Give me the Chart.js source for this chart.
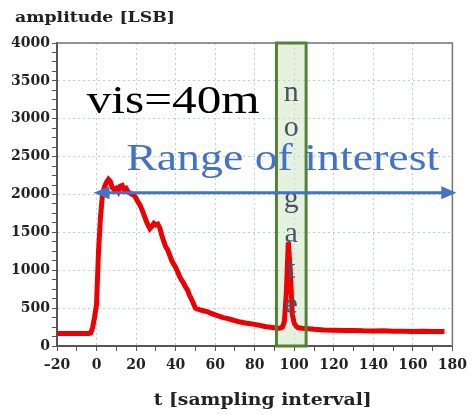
<!DOCTYPE html>
<html>
<head>
<meta charset="utf-8">
<script src="https://cdn.jsdelivr.net/npm/chart.js@4.4.1/dist/chart.umd.min.js"></script>
<style>
  body { margin: 0; background: #fff; }
  #wrap { width: 473px; height: 415px; }
</style>
</head>
<body>
<div id="wrap"><canvas id="chart" width="473" height="415"></canvas></div>
<script>
const sampleT = [-20, -10, -4, -3, -2, -1,
  0, 1, 2, 3, 4, 5, 6, 7, 8, 9, 10, 11, 12, 13, 14, 15, 16, 17, 18, 19, 20,
  21, 22, 23, 24, 25, 26, 27, 28, 29, 30, 31, 32, 33, 34, 35, 36, 37, 38, 39, 40,
  41, 42, 43, 44, 45, 46, 47, 48, 49, 50,
  52, 54, 56, 58, 60, 62, 64, 66, 68, 70, 72, 74, 76, 78, 80, 82, 84, 86, 88, 90,
  92, 93, 94, 95, 96, 97, 98, 99, 100, 101, 102, 104, 106,
  110, 115, 120, 125, 130, 135, 140, 145, 150, 155, 160, 165, 170, 176]
const amplitude = [165, 165, 165, 170, 240, 380,
  550, 1250, 1700, 2000, 2100, 2160, 2200, 2170, 2090, 2060, 2080, 2040, 2110, 2120, 2060, 2080, 2030, 2020, 2000, 1990, 1950,
  1900, 1860, 1800, 1730, 1660, 1600, 1550, 1580, 1620, 1600, 1610, 1560, 1460, 1380, 1310, 1270, 1200, 1130, 1080, 1040,
  980, 920, 870, 830, 780, 740, 670, 620, 560, 500,
  480, 465, 455, 430, 410, 395, 375, 365, 350, 335, 320, 310, 300, 295, 285, 275, 265, 255, 248, 240,
  236, 238, 250, 320, 700, 1370, 1000, 420, 300, 260, 240, 235, 232,
  220, 212, 208, 205, 205, 200, 198, 200, 196, 195, 193, 194, 192, 190]

const xLabelTicks = [-20, 0, 20, 40, 60, 80, 100, 120, 140, 160, 180]
const yLabelTicks = [0, 500, 1000, 1500, 2000, 2500, 3000, 3500, 4000]

// annotations
const gateFrom = 91
const gateTo = 106
const gateText = "no gate"
const arrowFrom = -1.5
const arrowTo = 182
const arrowLevel = 2024

const points = sampleT.map((t, i) => ({ x: t, y: amplitude[i] }))

function stretchText(ctx, str, x, y, font, color, width, align) {
  ctx.save()
  ctx.font = font
  ctx.fillStyle = color
  ctx.textBaseline = "alphabetic"
  ctx.textAlign = "left"
  const w = ctx.measureText(str).width
  const k = width / w
  const left = align === "center" ? x - width / 2 : x
  ctx.translate(left, y)
  ctx.scale(k, 1)
  ctx.fillText(str, 0, 0)
  ctx.restore()
}

const notes = {
  id: "notes",
  beforeDatasetsDraw(chart) {
    const { ctx, chartArea: a, scales } = chart
    const x1 = scales.x.getPixelForValue(gateFrom)
    const x2 = scales.x.getPixelForValue(gateTo)
    ctx.save()
    ctx.fillStyle = "rgba(200,226,184,0.45)"
    ctx.fillRect(x1, a.top, x2 - x1, a.bottom - a.top)
    ctx.restore()
  },
  afterDatasetsDraw(chart) {
    const { ctx, chartArea: a, scales } = chart
    const sx = scales.x, sy = scales.y
    ctx.save()
    // frame top/right
    ctx.strokeStyle = "#777"
    ctx.lineWidth = 1.5
    ctx.beginPath()
    ctx.moveTo(a.left, a.top)
    ctx.lineTo(a.right, a.top)
    ctx.lineTo(a.right, a.bottom)
    ctx.stroke()

    // gate box
    const x1 = sx.getPixelForValue(gateFrom)
    const x2 = sx.getPixelForValue(gateTo)
    ctx.strokeStyle = "#548235"
    ctx.lineWidth = 3
    ctx.strokeRect(x1, a.top, x2 - x1, a.bottom - a.top)
    ctx.font = '30px "Liberation Serif"'
    ctx.fillStyle = "#44546A"
    ctx.textAlign = "center"
    ctx.textBaseline = "alphabetic"
    gateText.split("").forEach((ch, i) => {
      ctx.fillText(ch, (x1 + x2) / 2, a.top + 58 + i * 35.3)
    })
    ctx.restore()

    stretchText(ctx, "vis=40m", sx.getPixelForValue(-5), sy.getPixelForValue(3076),
      '41px "Liberation Serif"', "#000", 173)
    stretchText(ctx, "Range of interest", sx.getPixelForValue(15), sy.getPixelForValue(2325),
      '38px "Liberation Serif"', "#4472C4", 313)

    // double arrow
    const ay = sy.getPixelForValue(arrowLevel)
    const xl = sx.getPixelForValue(arrowFrom)
    const xr = sx.getPixelForValue(arrowTo)
    ctx.save()
    ctx.strokeStyle = "#4472C4"
    ctx.fillStyle = "#4472C4"
    ctx.lineWidth = 3
    ctx.beginPath()
    ctx.moveTo(xl + 10, ay)
    ctx.lineTo(xr - 10, ay)
    ctx.stroke()
    ctx.beginPath()
    ctx.moveTo(xl, ay)
    ctx.lineTo(xl + 16, ay - 6.5)
    ctx.lineTo(xl + 16, ay + 6.5)
    ctx.closePath()
    ctx.fill()
    ctx.beginPath()
    ctx.moveTo(xr, ay)
    ctx.lineTo(xr - 15, ay - 6.5)
    ctx.lineTo(xr - 15, ay + 6.5)
    ctx.closePath()
    ctx.fill()
    ctx.restore()

    // axis titles
    stretchText(ctx, "amplitude [LSB]", 15, 22, 'bold 15px "DejaVu Serif"', "#222", 160)
    stretchText(ctx, "t [sampling interval]", (a.left + a.right) / 2 + 8, 405,
      'bold 16px "DejaVu Serif"', "#222", 218, "center")
  }
}

const tickFont = { family: '"DejaVu Serif"', size: 14, weight: "bold" }
const gridBlue = "#b3d4e6"

new Chart(document.getElementById("chart"), {
  type: "line",
  data: {
    datasets: [{
      data: points,
      borderColor: "#ee0000",
      borderWidth: 5,
      pointRadius: 0,
      tension: 0,
      fill: false
    }]
  },
  options: {
    responsive: false,
    animation: false,
    layout: { padding: { top: 43, right: 15, left: 0, bottom: 0 } },
    plugins: { legend: { display: false }, tooltip: { enabled: false } },
    scales: {
      x: {
        type: "linear",
        min: -20,
        max: 180,
        afterFit: s => { s.height = 69 },
        ticks: {
          stepSize: 10,
          autoSkip: false,
          maxRotation: 0,
          padding: 6,
          color: "#222",
          font: tickFont,
          callback: v => xLabelTicks.includes(v) ? (v < 0 ? "\u2013" + (-v) : String(v)) : ""
        },
        grid: {
          color: c => c.tick && xLabelTicks.includes(c.tick.value) ? gridBlue : "rgba(0,0,0,0)",
          tickColor: "#555",
          tickLength: 5,
          lineWidth: 1
        },
        border: { color: "#555", width: 2, dash: [2, 3] }
      },
      y: {
        min: 0,
        max: 4000,
        afterFit: s => { s.width = 57 },
        ticks: {
          stepSize: 125,
          autoSkip: false,
          padding: 2,
          color: "#222",
          font: tickFont,
          callback: v => yLabelTicks.includes(v) ? String(v) : ""
        },
        grid: {
          color: c => c.tick && yLabelTicks.includes(c.tick.value) ? gridBlue : "rgba(0,0,0,0)",
          tickColor: "#555",
          tickLength: 5,
          lineWidth: 1
        },
        border: { color: "#555", width: 2, dash: [2, 3] }
      }
    }
  },
  plugins: [notes]
})
</script>
</body>
</html>
